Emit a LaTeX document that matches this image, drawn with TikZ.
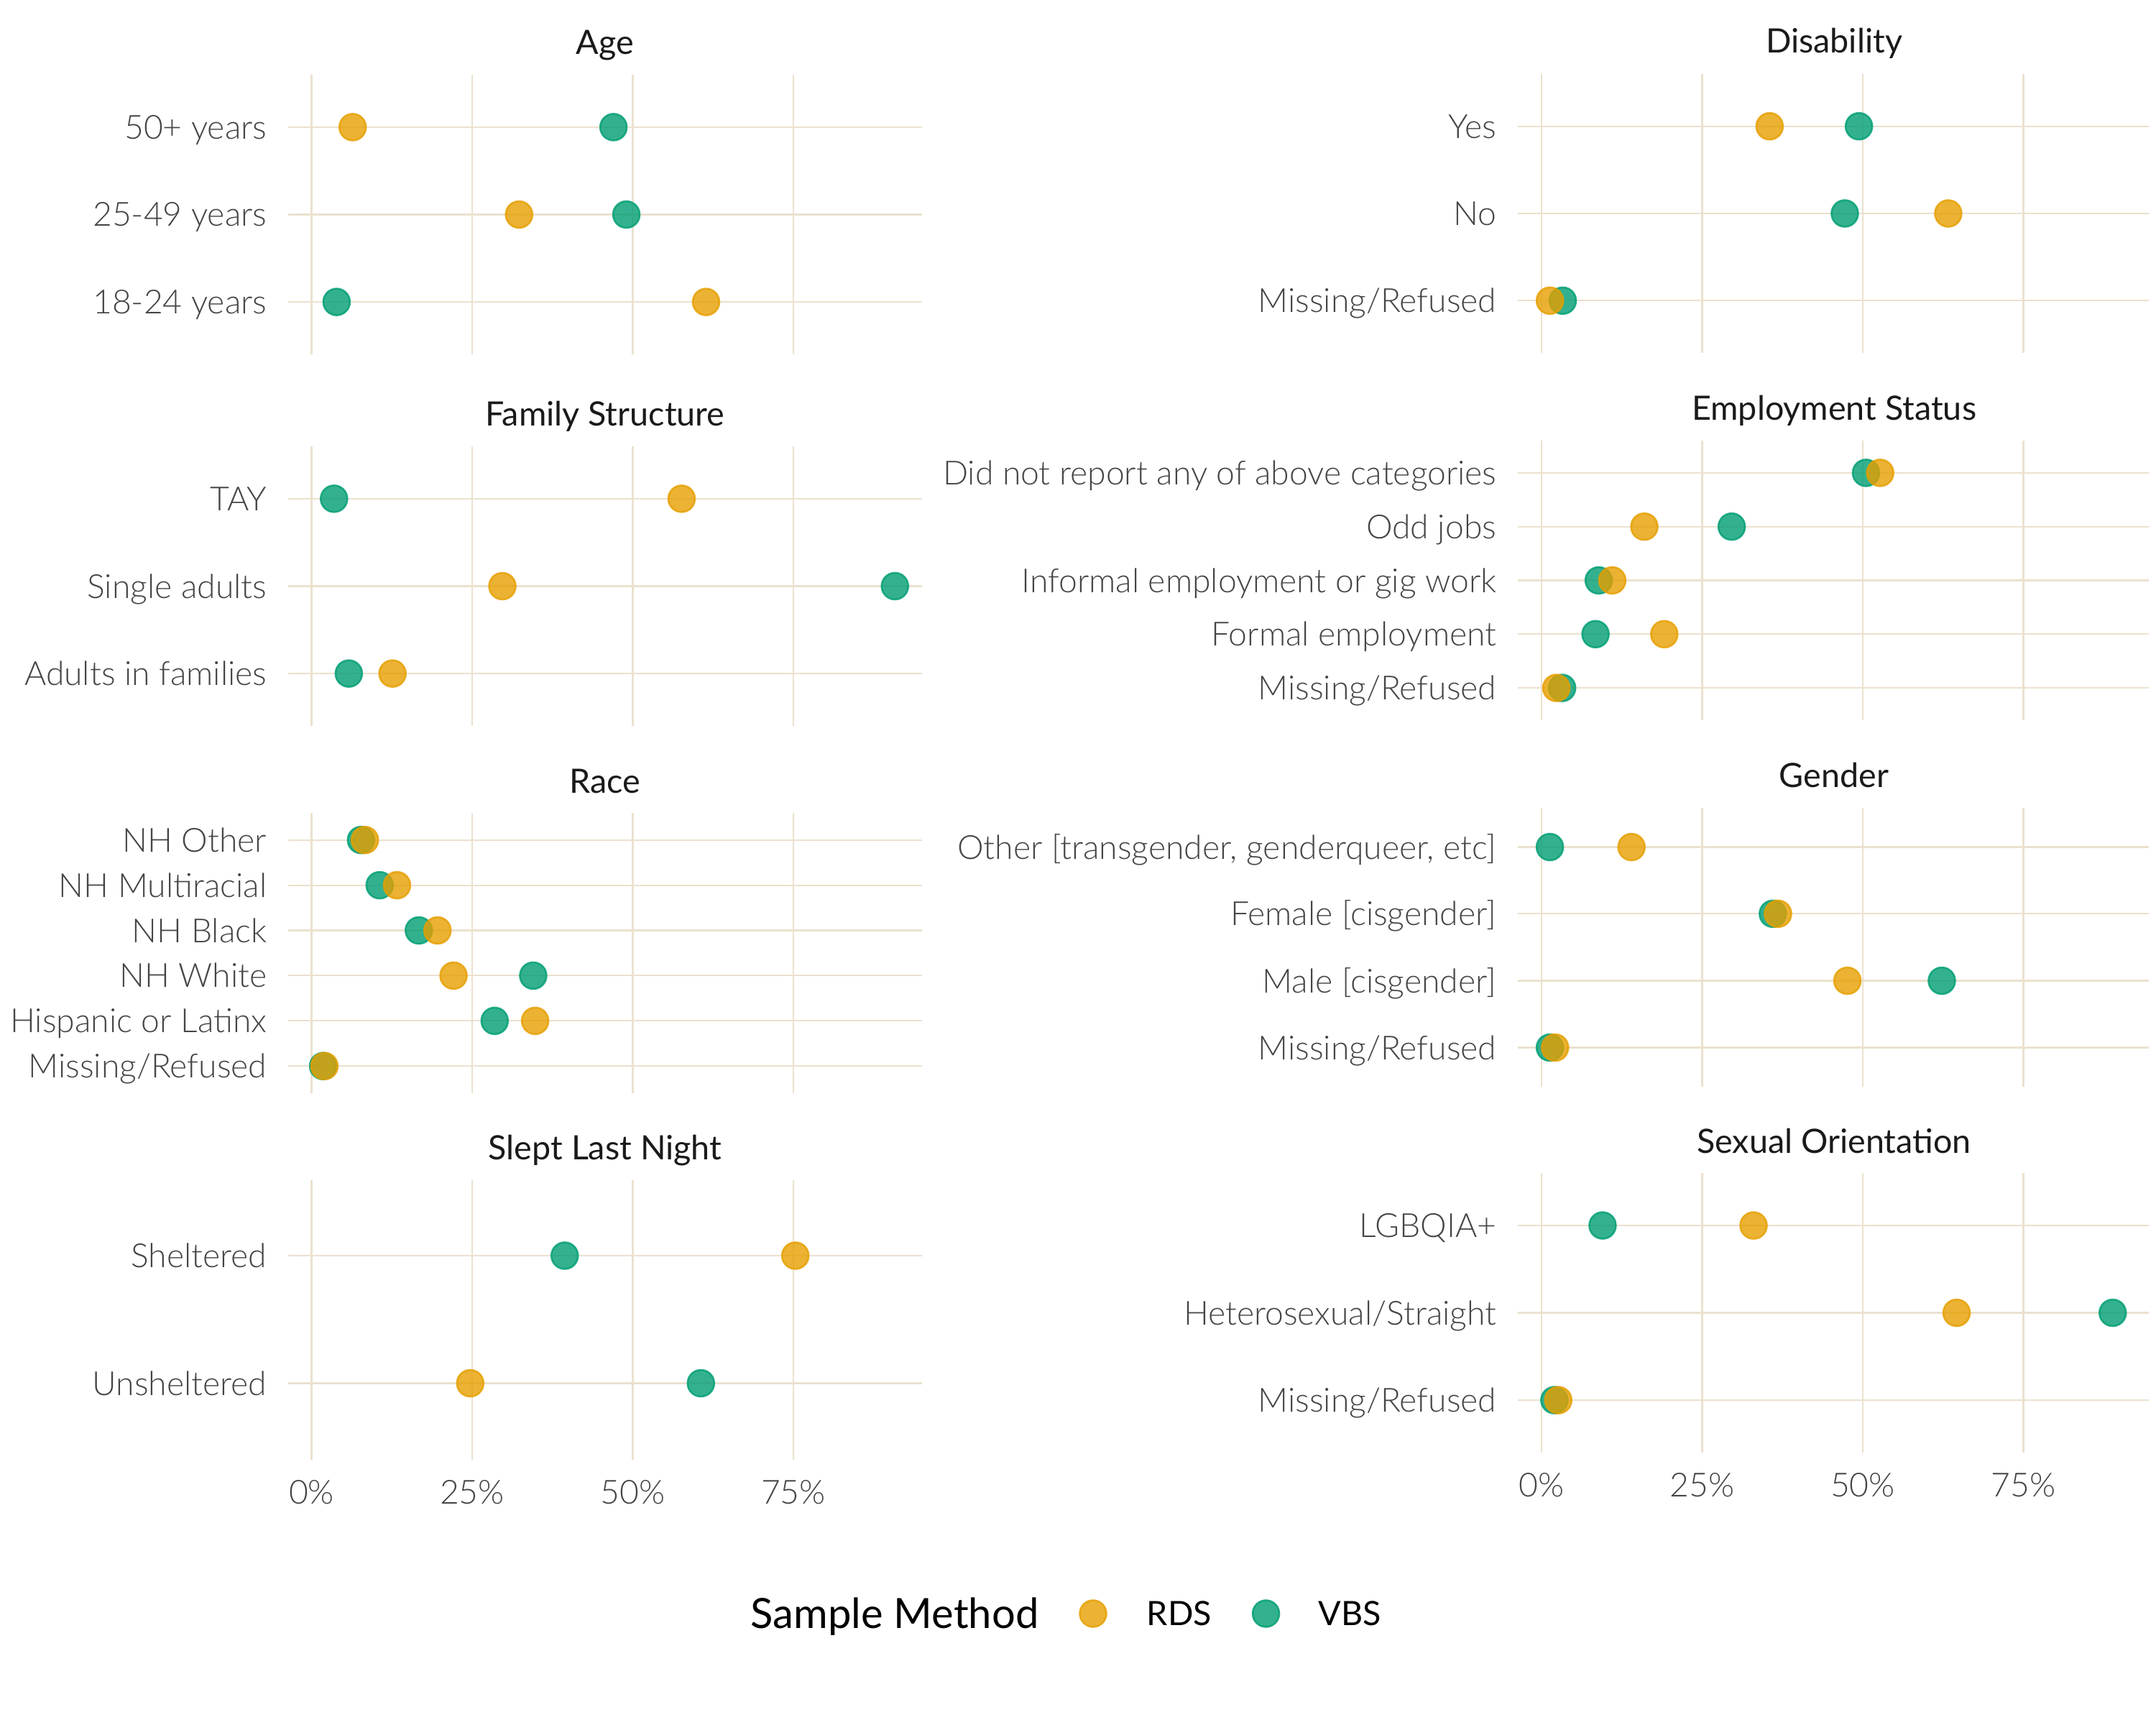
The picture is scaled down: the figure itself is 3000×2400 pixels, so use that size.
\documentclass[tikz,border=0pt]{standalone}
\usepackage{fontspec}
\setmainfont{Lato}
\IfFontExistsTF{Lato Light}{\newfontfamily\axfont{Lato Light}}{\newfontfamily\axfont{Lato}}
\definecolor{rdscol}{HTML}{E69F00}
\definecolor{vbscol}{HTML}{009E73}
\definecolor{gridcol}{HTML}{EBE1CE}
\definecolor{axtext}{HTML}{454545}
\definecolor{striptext}{HTML}{1A1A1A}
\tikzset{
 gridln/.style={draw=gridcol, line width=0.5pt},
 dotbase/.style={circle, inner sep=0pt, minimum size=8.9pt, line width=0.6pt, fill opacity=0.8, draw opacity=0.8},
 rdsdot/.style={dotbase, draw=rdscol, fill=rdscol},
 vbsdot/.style={dotbase, draw=vbscol, fill=vbscol},
 ylab/.style={anchor=base east, inner sep=0pt, font=\axfont\fontsize{11.1}{13}\selectfont, text=axtext},
 xlab/.style={anchor=base, inner sep=0pt, font=\axfont\fontsize{11.1}{13}\selectfont, text=axtext},
 ttl/.style={anchor=base, inner sep=0pt, font=\fontsize{11.2}{13}\selectfont, text=striptext},
 legtitle/.style={anchor=base, inner sep=0pt, font=\fontsize{13.9}{16}\selectfont, text=black},
 legtext/.style={anchor=base west, inner sep=0pt, font=\fontsize{11.2}{13}\selectfont, text=black},
}
% #1 x0 (0%), #2 top, #3 bottom
\newcommand{\vgridlines}[3]{%
 \foreach \k in {0,1,2,3} {\draw[gridln] ({#1+223.5*\k},#2) -- ({#1+223.5*\k},#3);}%
}
% #1 name, #2 x0, #3 xleft, #4 xright, #5 y, #6 label, #7 rds %, #8 vbs %
\newcommand{\catrow}[8]{%
 \draw[gridln] (#3,#5) -- (#4,#5);
 \node[ylab] (#1-lab) at (#3-29,#5+16.5) {#6};
 \node[vbsdot] (#1-vbs) at ({#2+8.94*#8},#5) {};
 \node[rdsdot] (#1-rds) at ({#2+8.94*#7},#5) {};
}
\begin{document}
\begin{tikzpicture}[x=0.24pt,y=-0.24pt]
\useasboundingbox (0,0) rectangle (3000,2400);
\fill[white] (0,0) rectangle (3000,2400);

% ---------- Age ----------
\node[ttl] (age-title) at (842,76) {Age};
\vgridlines{433.5}{104}{493}
\catrow{age1}{433.5}{401}{1283}{176.9}{50+ years}{6.4}{47.0}
\catrow{age2}{433.5}{401}{1283}{298.5}{25-49 years}{32.3}{49.0}
\catrow{age3}{433.5}{401}{1283}{420.1}{18-24 years}{61.4}{3.9}

% ---------- Family Structure ----------
\node[ttl] (fam-title) at (842,593) {Family Structure};
\vgridlines{433.5}{621}{1010}
\catrow{fam1}{433.5}{401}{1283}{693.9}{TAY}{57.6}{3.5}
\catrow{fam2}{433.5}{401}{1283}{815.5}{Single adults}{29.7}{90.8}
\catrow{fam3}{433.5}{401}{1283}{937.1}{Adults in families}{12.6}{5.8}

% ---------- Race ----------
\node[ttl] (race-title) at (842,1103) {Race};
\vgridlines{433.5}{1131}{1521}
\catrow{race1}{433.5}{401}{1283}{1168.7}{NH Other}{8.3}{7.7}
\catrow{race2}{433.5}{401}{1283}{1231.6}{NH Multiracial}{13.3}{10.6}
\catrow{race3}{433.5}{401}{1283}{1294.5}{NH Black}{19.6}{16.7}
\catrow{race4}{433.5}{401}{1283}{1357.4}{NH White}{22.1}{34.5}
\catrow{race5}{433.5}{401}{1283}{1420.3}{Hispanic or Latinx}{34.8}{28.5}
\catrow{race6}{433.5}{401}{1283}{1483.2}{Missing/Refused}{2.0}{1.8}

% ---------- Slept Last Night ----------
\node[ttl] (slept-title) at (842,1613) {Slept Last Night};
\vgridlines{433.5}{1642}{2031}
\catrow{slept1}{433.5}{401}{1283}{1747}{Sheltered}{75.3}{39.4}
\catrow{slept2}{433.5}{401}{1283}{1924.5}{Unsheltered}{24.7}{60.6}
\node[xlab] (lx0) at (433.5,2092) {0\%};
\node[xlab] (lx25) at (657,2092) {25\%};
\node[xlab] (lx50) at (880.5,2092) {50\%};
\node[xlab] (lx75) at (1104,2092) {75\%};

% ---------- Disability ----------
\node[ttl] (dis-title) at (2552,74) {Disability};
\vgridlines{2145}{103}{491}
\catrow{dis1}{2145}{2112}{2990}{175.7}{Yes}{35.5}{49.4}
\catrow{dis2}{2145}{2112}{2990}{297}{No}{63.3}{47.2}
\catrow{dis3}{2145}{2112}{2990}{418.3}{Missing/Refused}{1.3}{3.3}

% ---------- Employment Status ----------
\node[ttl] (emp-title) at (2552,585) {Employment Status};
\vgridlines{2145}{613}{1002}
\catrow{emp1}{2145}{2112}{2990}{657.9}{Did not report any of above categories}{52.7}{50.5}
\catrow{emp2}{2145}{2112}{2990}{732.7}{Odd jobs}{16.0}{29.6}
\catrow{emp3}{2145}{2112}{2990}{807.5}{Informal employment or gig work}{11.0}{8.9}
\catrow{emp4}{2145}{2112}{2990}{882.3}{Formal employment}{19.1}{8.4}
\catrow{emp5}{2145}{2112}{2990}{957.1}{Missing/Refused}{2.3}{3.2}

% ---------- Gender ----------
\node[ttl] (gen-title) at (2552,1095.5) {Gender};
\vgridlines{2145}{1123.5}{1512}
\catrow{gen1}{2145}{2112}{2990}{1178.5}{Other [transgender, genderqueer, etc]}{14.0}{1.3}
\catrow{gen2}{2145}{2112}{2990}{1271.3}{Female [cisgender]}{36.8}{36.0}
\catrow{gen3}{2145}{2112}{2990}{1364.5}{Male [cisgender]}{47.6}{62.3}
\catrow{gen4}{2145}{2112}{2990}{1457.5}{Missing/Refused}{2.1}{1.3}

% ---------- Sexual Orientation ----------
\node[ttl] (sex-title) at (2552,1604) {Sexual Orientation};
\vgridlines{2145}{1632}{2021}
\catrow{sex1}{2145}{2112}{2990}{1705}{LGBQIA+}{33.0}{9.5}
\catrow{sex2}{2145}{2112}{2990}{1826.5}{Heterosexual/Straight}{64.6}{88.9}
\catrow{sex3}{2145}{2112}{2990}{1948}{Missing/Refused}{2.6}{2.0}
\node[xlab] (rx0) at (2145,2082) {0\%};
\node[xlab] (rx25) at (2368.5,2082) {25\%};
\node[xlab] (rx50) at (2592,2082) {50\%};
\node[xlab] (rx75) at (2815.5,2082) {75\%};

% ---------- Legend ----------
\node[legtitle] (leg-title) at (1245,2265) {Sample Method};
\node[rdsdot] (leg-rds) at (1521,2245) {};
\node[legtext] (leg-rds-lab) at (1595,2261) {RDS};
\node[vbsdot] (leg-vbs) at (1761.5,2245) {};
\node[legtext] (leg-vbs-lab) at (1834,2261) {VBS};
\end{tikzpicture}
\end{document}
